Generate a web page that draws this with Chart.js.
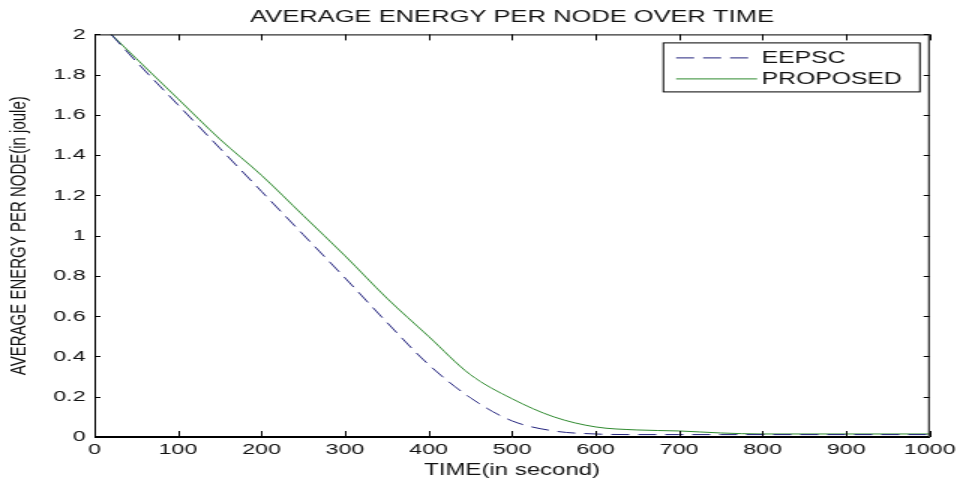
<!DOCTYPE html>
<html>
<head>
<meta charset="utf-8">
<script src="https://cdn.jsdelivr.net/npm/chart.js@4.4.1/dist/chart.umd.min.js"></script>
<style>
  html, body { margin: 0; padding: 0; background: #fff; overflow: hidden; }
  /* the reference figure is stretched sideways, so the canvas bitmap is too */
  #chart { display: block; width: 960px !important; height: 482px !important; }
</style>
</head>
<body>
<canvas id="chart" width="640" height="482" style="width:960px;height:482px"></canvas>
<script>
// Data
const timeSec = [20, 50, 100, 150, 200, 250, 300, 350, 400, 450, 500, 550, 600, 650, 700, 750, 800, 900, 1000];
const eepsc    = [2.00, 1.865, 1.65, 1.435, 1.22, 1.005, 0.79, 0.57, 0.36, 0.195, 0.08, 0.03, 0.015, 0.012, 0.012, 0.012, 0.012, 0.012, 0.012];
const proposed = [2.00, 1.88, 1.68, 1.48, 1.30, 1.10, 0.90, 0.69, 0.50, 0.31, 0.19, 0.10, 0.05, 0.035, 0.03, 0.02, 0.015, 0.015, 0.015];
const xTicksStep = 100;
const yTicksStep = 0.2;

const FONT = 'Liberation Sans, Arial, sans-serif';
const TEXT = '#111';

const toPoints = (ys) => ys.map((y, i) => ({ x: timeSec[i], y: y }));

// MATLAB style box: border on all sides and inward ticks
const boxAxes = {
    id: 'boxAxes',
    afterDatasetsDraw(chart) {
        const { ctx, chartArea: a, scales } = chart;
        ctx.save();
        ctx.strokeStyle = '#000';
        ctx.lineWidth = 1;
        ctx.setLineDash([]);
        ctx.strokeRect(a.left + 0.5, a.top + 0.5, a.right - a.left - 1, a.bottom - a.top - 1);
        ctx.beginPath();
        scales.x.ticks.forEach(t => {
            const px = Math.round(scales.x.getPixelForValue(t.value)) + 0.5;
            ctx.moveTo(px, a.bottom); ctx.lineTo(px, a.bottom - 6);
            ctx.moveTo(px, a.top); ctx.lineTo(px, a.top + 6);
        });
        scales.y.ticks.forEach(t => {
            const py = Math.round(scales.y.getPixelForValue(t.value)) + 0.5;
            ctx.moveTo(a.left, py); ctx.lineTo(a.left + 4, py);
            ctx.moveTo(a.right, py); ctx.lineTo(a.right - 4, py);
        });
        ctx.stroke();
        ctx.restore();
    }
};

// legend box in the upper right corner of the axes
const boxLegend = {
    id: 'boxLegend',
    afterDraw(chart) {
        const { ctx, chartArea: a } = chart;
        const w = 171, h = 49;
        const left = a.right - 7 - w, top = a.top + 8;
        ctx.save();
        ctx.fillStyle = '#fff';
        ctx.fillRect(left, top, w, h);
        ctx.strokeStyle = '#000';
        ctx.lineWidth = 1;
        ctx.strokeRect(left + 0.5, top + 0.5, w, h);
        ctx.font = '16.5px ' + FONT;
        ctx.textBaseline = 'middle';
        chart.data.datasets.forEach((ds, i) => {
            const y = top + 15 + i * 21;
            ctx.strokeStyle = ds.borderColor;
            ctx.setLineDash(ds.borderDash || []);
            ctx.beginPath();
            ctx.moveTo(left + 9, y + 0.5);
            ctx.lineTo(left + 63, y + 0.5);
            ctx.stroke();
            ctx.fillStyle = TEXT;
            ctx.fillText(ds.label, left + 66, y + 1);
        });
        ctx.restore();
    }
};

new Chart(document.getElementById('chart'), {
    type: 'line',
    data: {
        datasets: [{
            label: 'EEPSC',
            data: toPoints(eepsc),
            borderColor: '#24247e',
            borderWidth: 1,
            borderDash: [12, 6],
            pointRadius: 0,
            fill: false,
            cubicInterpolationMode: 'monotone'
        }, {
            label: 'PROPOSED',
            data: toPoints(proposed),
            borderColor: '#2f8a2f',
            borderWidth: 1,
            pointRadius: 0,
            fill: false,
            cubicInterpolationMode: 'monotone'
        }]
    },
    options: {
        responsive: false,
        animation: false,
        devicePixelRatio: 1,
        layout: { padding: { left: 0, right: 18, top: 0, bottom: 0 } },
        plugins: {
            legend: { display: false },
            tooltip: { enabled: false },
            title: {
                display: true,
                fullSize: false,
                text: 'AVERAGE ENERGY PER NODE OVER TIME',
                color: TEXT,
                font: { family: FONT, size: 17, weight: 'normal' },
                padding: { top: 7, bottom: 7 }
            }
        },
        scales: {
            x: {
                type: 'linear',
                min: 0,
                max: 1000,
                grid: { display: false, drawTicks: false },
                border: { display: true, color: '#000', width: 1 },
                ticks: {
                    stepSize: xTicksStep,
                    color: TEXT,
                    font: { family: FONT, size: 15.5 },
                    padding: 3,
                    maxRotation: 0,
                    autoSkip: false,
                    callback: (v) => String(v)
                },
                title: {
                    display: true,
                    text: 'TIME(in second)',
                    color: TEXT,
                    font: { family: FONT, size: 16 },
                    padding: { top: 0, bottom: 2 }
                },
                afterFit(scale) { scale.height = 45; }
            },
            y: {
                min: 0,
                max: 2,
                grid: { display: false, drawTicks: false },
                border: { display: true, color: '#000', width: 1 },
                ticks: {
                    stepSize: yTicksStep,
                    color: TEXT,
                    font: { family: FONT, size: 15.5 },
                    padding: 6,
                    callback: (v) => String(+v.toFixed(1))
                },
                title: {
                    display: true,
                    text: 'AVERAGE ENERGY PER NODE(in joule)',
                    color: TEXT,
                    font: { family: FONT, size: 15 },
                    padding: { top: 4, bottom: 0 }
                },
                afterFit(scale) { scale.width = 63; }
            }
        }
    },
    plugins: [boxAxes, boxLegend]
});
</script>
</body>
</html>
